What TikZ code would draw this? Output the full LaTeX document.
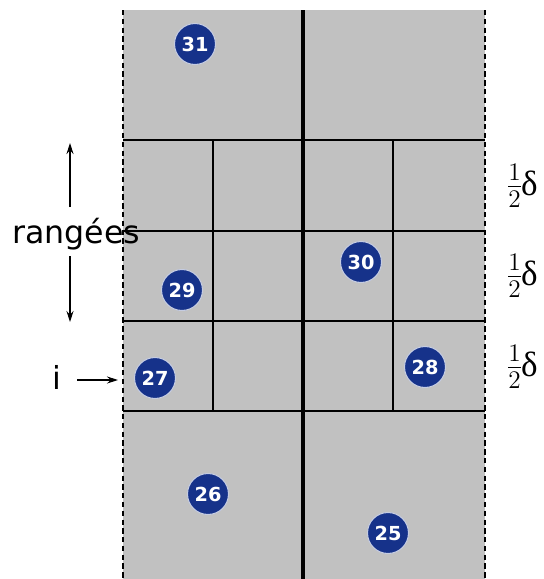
\documentclass[tikz,border=0pt]{standalone}
\usepackage{fontspec}
\setsansfont{DejaVu Sans}
\newfontfamily\grec{Liberation Serif}
\usetikzlibrary{arrows.meta}

\definecolor{zone}{RGB}{193,193,193}
\definecolor{pastille}{RGB}{22,50,138}

\begin{document}
\begin{tikzpicture}[x=0.02cm, y=-0.02cm]
\def\xg{123}   % left edge of the strip
\def\xd{485}   % right edge of the strip
\def\xm{303}   % middle line
\tikzset{
  num/.style={circle, fill=pastille, draw=white!75!pastille, line width=0.6pt,
    text=white, inner sep=0pt, minimum size=0.82cm,
    font=\sffamily\bfseries\fontsize{11}{13}\selectfont},
  lbl/.style={font=\sffamily\fontsize{18}{21}\selectfont, inner sep=0pt},
  demi/.style={font=\fontsize{20}{24}\selectfont, inner sep=0pt},
  grille/.style={black, line width=0.8pt},
  bord/.style={black, line width=0.8pt, densely dashed},
  fl/.style={-{Stealth[length=2.2mm, width=1.4mm]}, line width=0.6pt},
}
\useasboundingbox (0,0) rectangle (544,579);

% ---- strip ----
\fill[zone] (\xg,10) rectangle (\xd,579);
\foreach \y in {140,231,321,411}{
  \draw[grille] (\xg,\y) -- (\xd,\y);
}
\draw[grille] (213,140) -- (213,411);
\draw[grille] (393,140) -- (393,411);
\draw[bord] (\xg,10) -- (\xg,579);
\draw[bord] (\xd,10) -- (\xd,579);
\draw[black, line width=2.8pt] (\xm,10) -- (\xm,579);

% ---- numbered points ----
\node[num] (p31) at (195,44) {31};
\node[num] (p30) at (361,262) {30};
\node[num] (p29) at (182,290) {29};
\node[num] (p28) at (425,367) {28};
\node[num] (p27) at (155,378) {27};
\node[num] (p26) at (208,494) {26};
\node[num] (p25) at (388,533) {25};

% ---- rows ----
\node[lbl] (rang) at (76,234) {rangées};
\coordinate (rhaut) at (70,143);
\coordinate (rbas) at (70,322);
\draw[fl] (70,207) -- (rhaut);
\draw[fl] (70,256) -- (rbas);
\node[lbl] (ligi) at (57,377) {i};
\coordinate (bordi) at (118,380);
\draw[fl] (77,380) -- (bordi);

% ---- row heights ----
\foreach \y/\n in {186/a,276/b,367/c}{
  \node[demi] (d\n) at (522,\y) {$\frac{1}{2}$\kern-1pt{\grec δ}};
}

\end{tikzpicture}
\end{document}
